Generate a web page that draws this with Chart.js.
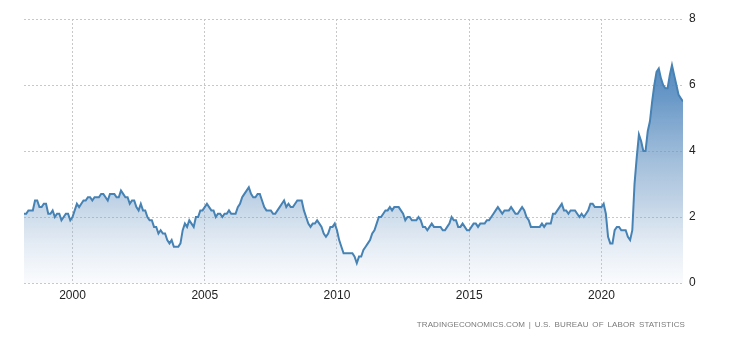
<!DOCTYPE html>
<html>
<head>
<meta charset="utf-8">
<script src="https://cdn.jsdelivr.net/npm/chart.js@4"></script>
<style>
  body { margin: 0; background: #fff; }
  .wrap { position: relative; width: 730px; height: 340px; }
  .source {
    position: absolute; right: 45px; top: 320px;
    font: 8px "Liberation Sans", Arial, sans-serif; color: #7a7a7a;
    letter-spacing: 0.1px; word-spacing: 1.5px; white-space: nowrap;
  }
</style>
</head>
<body>
<div class="wrap">
  <canvas id="myChart" width="730" height="340"></canvas>
  <div class="source">TRADINGECONOMICS.COM | U.S. BUREAU OF LABOR STATISTICS</div>
</div>
<script>
// monthly, from Mar 1998 to Feb 2023
const startYear = 1998;
const startMonth = 3;

const values = [
  2.1, 2.1, 2.2, 2.2, 2.2, 2.5, 2.5, 2.3, 2.3, 2.4,
  2.4, 2.1, 2.1, 2.2, 2.0, 2.1, 2.1, 1.9, 2.0, 2.1, 2.1, 1.9,
  2.0, 2.2, 2.4, 2.3, 2.4, 2.5, 2.5, 2.6, 2.6, 2.5, 2.6, 2.6,
  2.6, 2.7, 2.7, 2.6, 2.5, 2.7, 2.7, 2.7, 2.6, 2.6, 2.8, 2.7,
  2.6, 2.6, 2.4, 2.5, 2.5, 2.3, 2.2, 2.4, 2.2, 2.2, 2.0, 1.9,
  1.9, 1.7, 1.7, 1.5, 1.6, 1.5, 1.5, 1.3, 1.2, 1.3, 1.1, 1.1,
  1.1, 1.2, 1.6, 1.8, 1.7, 1.9, 1.8, 1.7, 2.0, 2.0, 2.2, 2.2,
  2.3, 2.4, 2.3, 2.2, 2.2, 2.0, 2.1, 2.1, 2.0, 2.1, 2.1, 2.2,
  2.1, 2.1, 2.1, 2.3, 2.4, 2.6, 2.7, 2.8, 2.9, 2.7, 2.6, 2.6,
  2.7, 2.7, 2.5, 2.3, 2.2, 2.2, 2.2, 2.1, 2.1, 2.2, 2.3, 2.4,
  2.5, 2.3, 2.4, 2.3, 2.3, 2.4, 2.5, 2.5, 2.5, 2.2, 2.0, 1.8,
  1.7, 1.8, 1.8, 1.9, 1.8, 1.7, 1.5, 1.4, 1.5, 1.7, 1.7, 1.8,
  1.6, 1.3, 1.1, 0.9, 0.9, 0.9, 0.9, 0.9, 0.8, 0.6, 0.8, 0.8,
  1.0, 1.1, 1.2, 1.3, 1.5, 1.6, 1.8, 2.0, 2.0, 2.1, 2.2, 2.2,
  2.3, 2.2, 2.3, 2.3, 2.3, 2.2, 2.1, 1.9, 2.0, 2.0, 1.9, 1.9,
  1.9, 2.0, 1.9, 1.7, 1.7, 1.6, 1.7, 1.8, 1.7, 1.7, 1.7, 1.7,
  1.6, 1.6, 1.7, 1.8, 2.0, 1.9, 1.9, 1.7, 1.7, 1.8, 1.7, 1.6,
  1.6, 1.7, 1.8, 1.8, 1.7, 1.8, 1.8, 1.8, 1.9, 1.9, 2.0, 2.1,
  2.2, 2.3, 2.2, 2.1, 2.2, 2.2, 2.2, 2.3, 2.2, 2.1, 2.1, 2.2,
  2.3, 2.2, 2.0, 1.9, 1.7, 1.7, 1.7, 1.7, 1.7, 1.8, 1.7, 1.8,
  1.8, 1.8, 2.1, 2.1, 2.2, 2.3, 2.4, 2.2, 2.2, 2.1, 2.2, 2.2,
  2.2, 2.1, 2.0, 2.1, 2.0, 2.1, 2.2, 2.4, 2.4, 2.3, 2.3, 2.3,
  2.3, 2.4, 2.1, 1.4, 1.2, 1.2, 1.6, 1.7, 1.7, 1.6, 1.6, 1.6,
  1.4, 1.3, 1.6, 3.0, 3.8, 4.5, 4.3, 4.0, 4.0, 4.6, 4.9, 5.5,
  6.0, 6.4, 6.5, 6.2, 6.0, 5.9, 5.9, 6.3, 6.6, 6.3, 6.0, 5.7,
  5.6, 5.5
];

const yearTicks = [2000, 2005, 2010, 2015, 2020];
const valueTicks = [0, 2, 4, 6, 8];

const points = values.map((v, i) => ({ x: startYear + (startMonth - 1 + i) / 12, y: v }));

const lineColor = "#4682b4";

function fillGradient(context) {
  const area = context.chart.chartArea;
  if (!area) return "rgba(70,130,180,0.4)";
  const g = context.chart.ctx.createLinearGradient(0, area.top, 0, area.bottom);
  g.addColorStop(0, "rgba(60,118,175,1)");
  g.addColorStop(0.3, "rgba(80,135,190,0.85)");
  g.addColorStop(0.7, "rgba(120,160,200,0.45)");
  g.addColorStop(1, "rgba(180,200,225,0.08)");
  return g;
}

new Chart(document.getElementById("myChart"), {
  type: "line",
  data: {
    datasets: [{
      data: points,
      borderColor: lineColor,
      borderWidth: 2,
      backgroundColor: fillGradient,
      fill: "origin",
      pointRadius: 0,
      tension: 0
    }]
  },
  options: {
    responsive: false,
    animation: false,
    layout: { padding: { left: 24, top: 19, right: 0, bottom: 0 } },
    plugins: { legend: { display: false }, tooltip: { enabled: false } },
    scales: {
      x: {
        type: "linear",
        min: points[0].x,
        max: points[points.length - 1].x,
        afterBuildTicks: axis => { axis.ticks = yearTicks.map(v => ({ value: v })); },
        afterFit: axis => { axis.height = 57; },
        ticks: {
          color: "#222",
          font: { family: "Liberation Sans, Arial, sans-serif", size: 12 },
          padding: 5,
          maxRotation: 0,
          callback: v => String(v)
        },
        grid: { color: "#c8c8c8", drawTicks: false },
        border: { display: false, dash: [2, 2] }
      },
      y: {
        position: "right",
        min: 0,
        max: 8,
        afterBuildTicks: axis => { axis.ticks = valueTicks.map(v => ({ value: v })); },
        afterFit: axis => { axis.width = 47; },
        ticks: {
          color: "#222",
          font: { family: "Liberation Sans, Arial, sans-serif", size: 12 },
          padding: 6
        },
        grid: { color: "#c8c8c8", drawTicks: false },
        border: { display: false, dash: [2, 2] }
      }
    }
  }
});
</script>
</body>
</html>
